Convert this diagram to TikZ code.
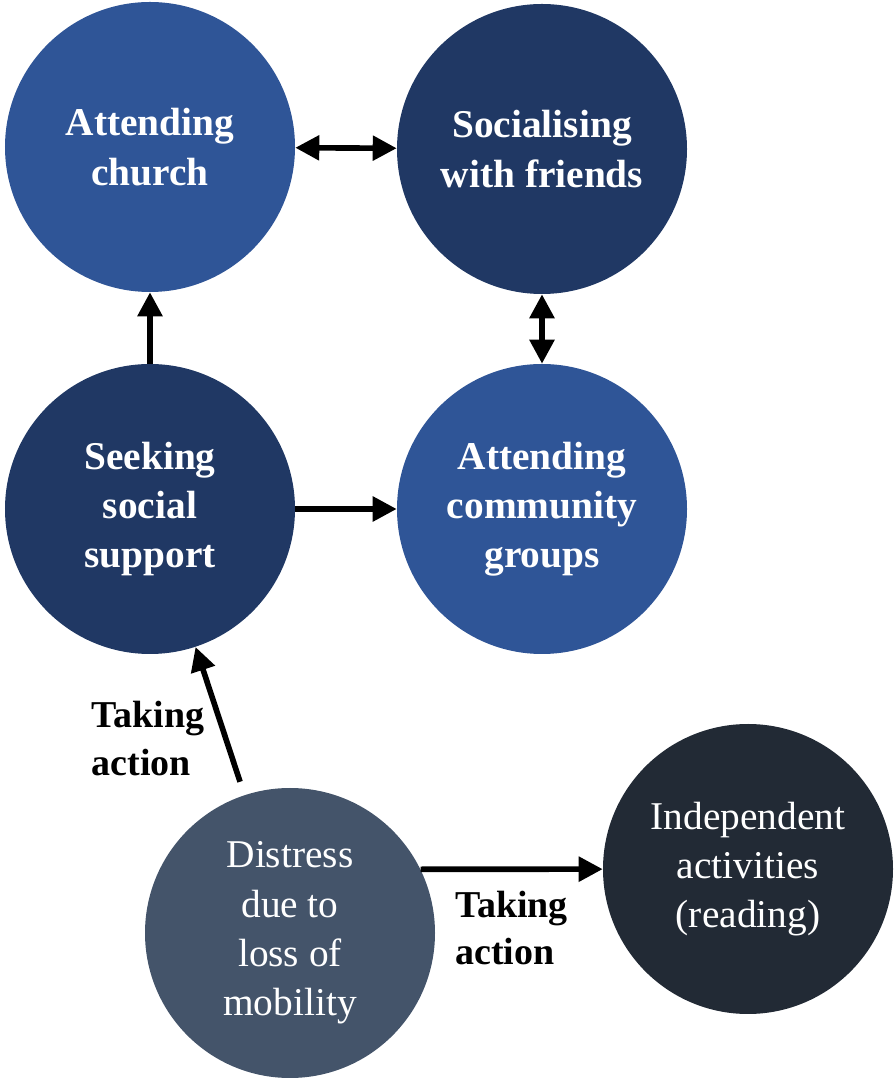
\documentclass[tikz,border=0pt]{standalone}
\usepackage{fontspec}
\setmainfont{Liberation Serif}
\usetikzlibrary{arrows.meta}
\definecolor{midblue}{HTML}{2F5597}
\definecolor{navy}{HTML}{203864}
\definecolor{slate}{HTML}{44546A}
\definecolor{ink}{HTML}{222A35}
\begin{document}
\begin{tikzpicture}[
    bubble/.style={circle, minimum size=7.25cm, inner sep=0pt, text=white, align=center, font=\fontsize{28}{35}\selectfont},
    strong/.style={bubble, font=\fontsize{28}{35}\selectfont\bfseries},
    link/.style={-{Triangle[length=0.6cm, width=0.6cm]}, line width=4pt},
    both/.style={{Triangle[length=0.6cm, width=0.6cm]}-{Triangle[length=0.6cm, width=0.6cm]}, line width=4pt},
    tag/.style={font=\fontsize{27}{34}\selectfont\bfseries, align=left}
]
\useasboundingbox (0,0) rectangle (22.35,27.125);

% Social circles
\node[strong, fill=midblue] (church) at (3.75, 23.45) {Attending\\church};
\node[strong, fill=navy] (friends) at (13.55, 23.4) {Socialising\\with friends};
\node[strong, fill=navy] (seeking) at (3.75, 14.4) {Seeking\\social\\support};
\node[strong, fill=midblue] (groups) at (13.55, 14.4) {Attending\\community\\groups};

% Starting point and alternative
\node[bubble, fill=slate] (distress) at (7.25, 3.8) {Distress\\due to\\loss of\\mobility};
\node[bubble, fill=ink] (reading) at (18.7, 5.4) {Independent\\activities\\(reading)};

\draw[both] (church) -- (friends);
\draw[both] (friends) -- (groups);
\draw[link] (seeking) -- (church);
\draw[link] (seeking) -- (groups);
\draw[link, shorten <=0.35cm] (distress) -- (seeking)
    node[tag, pos=0.38, left=0.35cm] {Taking\\action};
\draw[link] (distress.26) -- (reading)
    node[tag, midway, below=0.35cm] {Taking\\action};
\end{tikzpicture}
\end{document}
